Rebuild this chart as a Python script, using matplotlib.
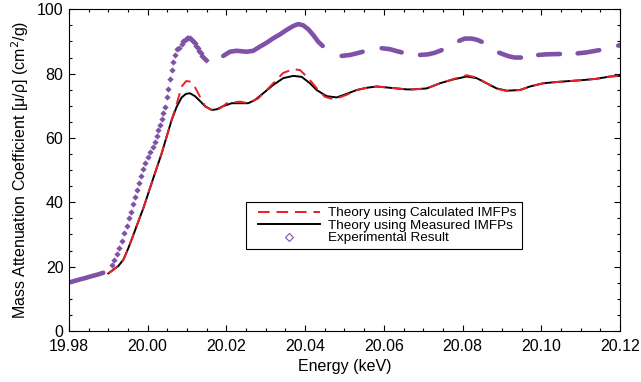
import numpy as np
import matplotlib
matplotlib.use('Agg')
import matplotlib.pyplot as plt
from matplotlib.lines import Line2D
from matplotlib.legend_handler import HandlerLine2D

plt.rcParams['font.family'] = ['Liberation Sans', 'DejaVu Sans']

purple = '#7f52a8'

# theory using measured IMFPs (black)
meas_e = [19.99000, 19.99253, 19.99380, 19.99507, 19.99634, 19.99761, 19.99888, 20.00015,
          20.00142, 20.00269, 20.00355, 20.00482, 20.00609, 20.00736, 20.00863, 20.00973,
          20.01074, 20.01201, 20.01328, 20.01455, 20.01626, 20.01753, 20.01920, 20.02134,
          20.02345, 20.02555, 20.02726, 20.02936, 20.03191, 20.03445, 20.03699, 20.03912,
          20.04123, 20.04293, 20.04547, 20.04801, 20.05055, 20.05309, 20.05564, 20.05818,
          20.06072, 20.06326, 20.06580, 20.06748, 20.07088, 20.07426, 20.07764, 20.08104,
          20.08358, 20.08612, 20.08866, 20.09120, 20.09458, 20.09712, 20.10050, 20.10391,
          20.10729, 20.11067, 20.11407, 20.11745, 20.12000]
meas_v = [17.9, 20.2, 22.1, 25.7, 29.8, 34.0, 38.1, 42.8,
          47.5, 52.1, 55.2, 60.4, 65.6, 69.7, 72.6, 73.7,
          73.9, 73.0, 71.5, 69.9, 68.7, 68.9, 69.9, 70.8,
          70.8, 70.8, 71.8, 73.9, 76.5, 78.6, 79.3, 79.0,
          77.0, 74.9, 73.0, 72.6, 73.7, 74.9, 75.6, 76.0,
          75.7, 75.4, 75.1, 75.1, 75.4, 77.0, 78.2, 79.1,
          78.6, 77.0, 75.4, 74.7, 74.9, 76.0, 77.0, 77.4,
          77.7, 78.0, 78.4, 79.1, 79.3]

# theory using calculated IMFPs (red dashed)
calc_e = [19.99000, 19.99253, 19.99380, 19.99507, 19.99634, 19.99761, 19.99888, 20.00015,
          20.00142, 20.00269, 20.00355, 20.00482, 20.00609, 20.00736, 20.00863, 20.00980,
          20.01090, 20.01220, 20.01350, 20.01470, 20.01709, 20.01930, 20.02010, 20.02345,
          20.02555, 20.02810, 20.03110, 20.03440, 20.03700, 20.03870, 20.04080, 20.04293,
          20.04500, 20.04730, 20.05055, 20.05309, 20.05564, 20.05818, 20.06072, 20.06326,
          20.06580, 20.06748, 20.07088, 20.07426, 20.07764, 20.08104, 20.08358, 20.08612,
          20.08866, 20.09120, 20.09458, 20.09712, 20.10050, 20.10391, 20.10729, 20.11067,
          20.11407, 20.11745, 20.12000]
calc_v = [17.9, 20.2, 22.1, 25.7, 29.8, 34.0, 38.1, 42.8,
          47.5, 52.1, 55.2, 60.4, 65.6, 70.5, 76.0, 77.7,
          77.5, 75.4, 72.3, 69.7, 68.2, 70.0, 70.8, 71.3,
          70.8, 72.3, 76.0, 80.2, 81.4, 81.1, 78.6, 75.5,
          72.8, 72.0, 73.4, 74.9, 75.6, 76.0, 75.7, 75.4,
          75.1, 75.1, 75.4, 77.0, 78.3, 79.5, 78.8, 77.0,
          75.3, 74.6, 74.9, 76.0, 77.0, 77.4, 77.7, 78.0,
          78.4, 79.1, 79.4]

# experimental result: rising edge (single points)
rise_e = [19.99085, 19.99151, 19.99227, 19.99278, 19.99347, 19.99405, 19.99466, 19.99524,
          19.99583, 19.99626, 19.99677, 19.99728, 19.99786, 19.99829, 19.99888, 19.99939,
          20.00000, 20.00058, 20.00142, 20.00185, 20.00228, 20.00269, 20.00312, 20.00355,
          20.00396, 20.00439, 20.00482, 20.00523, 20.00566, 20.00609, 20.00650, 20.00693,
          20.00736, 20.00802, 20.00863, 20.00904, 20.00947, 20.00990, 20.01031, 20.01074,
          20.01117, 20.01158, 20.01201, 20.01235, 20.01270, 20.01308, 20.01346, 20.01387,
          20.01430, 20.01481]
rise_v = [20.5, 22.0, 23.8, 25.9, 28.1, 30.4, 32.6, 35.0,
          37.1, 39.4, 41.7, 43.8, 45.9, 48.3, 50.4, 52.3,
          54.2, 55.7, 57.3, 58.8, 60.6, 62.5, 64.0, 65.8,
          67.7, 69.5, 72.6, 75.2, 78.3, 81.1, 83.7, 85.8,
          87.8, 88.0, 89.3, 90.1, 90.6, 91.0, 91.1, 91.0,
          90.6, 90.0, 89.4, 88.7, 87.9, 87.1, 86.3, 85.5,
          84.8, 84.1]

# experimental result: dense stretches (nan = gap in the data)
nan = np.nan
exp_e = [19.98000, 19.98127, 19.98297, 19.98424, 19.98592, 19.98719, 19.98871, nan,
         20.01920, 20.02090, 20.02261, 20.02515, 20.02683, 20.02853, 20.03023, 20.03191,
         20.03361, 20.03531, 20.03699, 20.03826, 20.03953, 20.04080, 20.04207, 20.04334,
         20.04446, nan,
         20.04928, 20.05139, 20.05309, 20.05462, nan,
         20.05945, 20.06155, 20.06326, 20.06453, nan,
         20.06918, 20.07129, 20.07299, 20.07469, nan,
         20.07916, 20.08059, 20.08229, 20.08372, 20.08485, nan,
         20.08932, 20.09077, 20.09204, 20.09331, 20.09484, nan,
         20.09923, 20.10137, 20.10475, nan,
         20.10924, 20.11153, 20.11473, nan,
         20.11956, 20.12000]
exp_v = [15.1, 15.5, 16.1, 16.5, 17.1, 17.5, 18.1, nan,
         85.5, 86.8, 87.1, 86.8, 87.1, 88.4, 89.6, 91.0,
         92.2, 93.6, 94.8, 95.4, 95.0, 93.8, 92.0, 89.9,
         88.6, nan,
         85.5, 85.8, 86.3, 86.8, nan,
         87.9, 87.6, 87.0, 86.6, nan,
         85.8, 86.0, 86.5, 87.3, nan,
         90.2, 90.9, 90.9, 90.5, 89.9, nan,
         86.5, 85.8, 85.3, 85.0, 85.0, nan,
         85.8, 86.0, 86.1, nan,
         86.3, 86.6, 87.3, nan,
         88.7, 88.9]


class ShiftedHandler(HandlerLine2D):
    # leaves some empty room on the left of the legend line
    def __init__(self, shift, **kw):
        super().__init__(**kw)
        self.shift = shift

    def adjust_drawing_area(self, legend, orig_handle, xdescent, ydescent, width, height, fontsize):
        xd, yd, w, h = super().adjust_drawing_area(legend, orig_handle, xdescent, ydescent,
                                                   width, height, fontsize)
        s = self.shift * fontsize
        return xd - s, yd, w - s, h


fig = plt.figure(figsize=(6.41, 3.82), dpi=100)
ax = fig.add_axes([0.1076, 0.1335, 0.8596, 0.8422])

ax.plot(exp_e, exp_v, '-', color=purple, lw=3.3, solid_capstyle='round')
ax.plot(rise_e, rise_v, 'D', color=purple, ms=3.2, mew=0)
ax.plot(meas_e, meas_v, '-', color='black', lw=1.4)
ax.plot(calc_e, calc_v, '--', color='#e8202a', lw=1.4, dashes=(6, 3.5))

ax.set_xlim(19.98, 20.12)
ax.set_ylim(0, 100)
ax.set_xticks(np.arange(19.98, 20.1201, 0.02))
ax.set_xticks(np.arange(19.98, 20.1201, 0.005), minor=True)
ax.set_yticks(np.arange(0, 101, 20))
ax.set_yticks(np.arange(0, 101, 5), minor=True)
ax.xaxis.set_major_formatter(matplotlib.ticker.FormatStrFormatter('%.2f'))
ax.tick_params(which='both', direction='in', top=True, right=True, width=0.8, labelsize=11.5)
ax.tick_params(which='major', length=4.5)
ax.tick_params(which='minor', length=2.5)
ax.tick_params(axis='x', pad=6)
ax.tick_params(axis='y', pad=4)
for s in ax.spines.values():
    s.set_linewidth(0.8)

ax.set_xlabel('Energy (keV)', fontsize=11.5, labelpad=3)
ax.set_ylabel('Mass Attenuation Coefficient [\u03bc/\u03c1] (cm$^2$/g)', fontsize=11.5, labelpad=4)

handles = [Line2D([], [], color='#e8202a', ls='--', lw=1.4, dashes=(6, 3.5)),
           Line2D([], [], color='black', lw=1.4),
           Line2D([], [], ls='none', marker='D', ms=4, mfc='none', mec=purple, mew=0.8)]
labels = ['Theory using Calculated IMFPs', 'Theory using Measured IMFPs', 'Experimental Result']
hmap = {h: ShiftedHandler(0.59) for h in handles}
leg = ax.legend(handles, labels, loc='upper left', bbox_to_anchor=(0.3207, 0.4001),
                borderaxespad=0, fontsize=9.7, handlelength=5.17, handletextpad=0.62,
                labelspacing=0.0, borderpad=0.35, fancybox=False, framealpha=1,
                edgecolor='black', handler_map=hmap)
leg.get_frame().set_linewidth(0.8)

fig.savefig('out.png', dpi=100)
